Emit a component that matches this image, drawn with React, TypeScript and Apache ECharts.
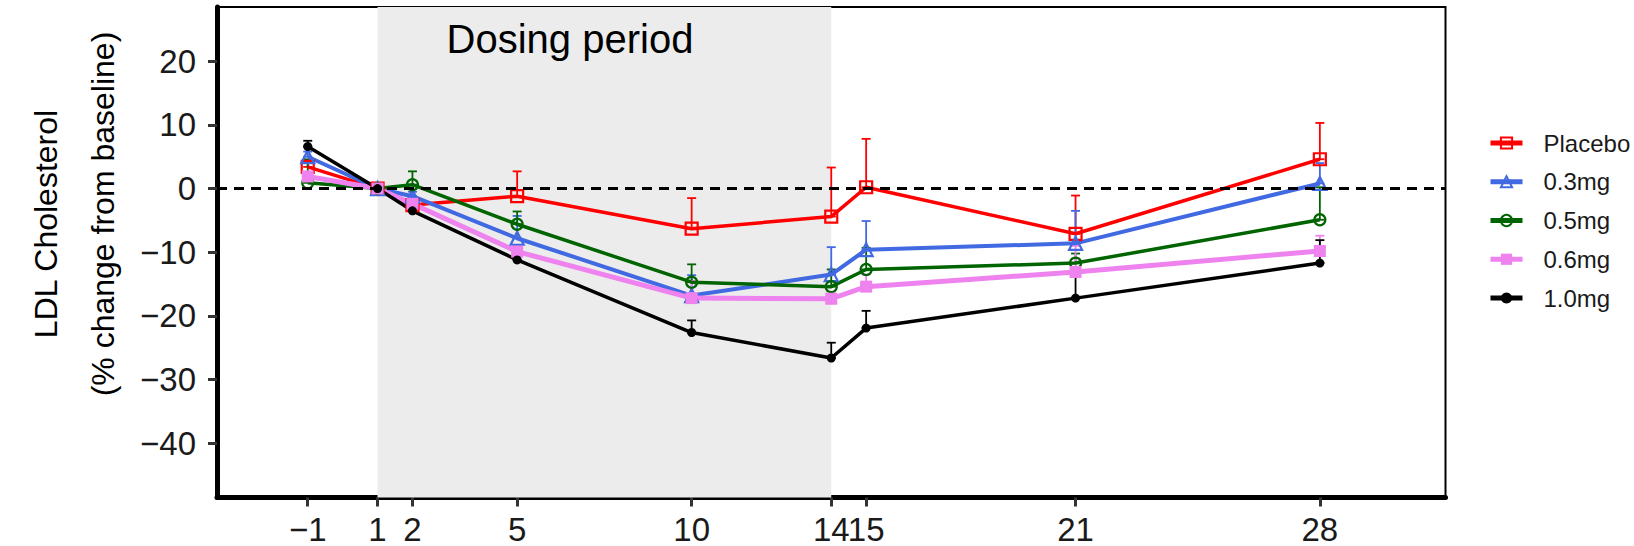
import React, { useEffect, useRef } from 'react';
import * as echarts from 'echarts';

// ---- data ----
const days = [-1, 1, 2, 5, 10, 14, 15, 21, 28];
const groupNames = ['Placebo', '0.3mg', '0.5mg', '0.6mg', '1.0mg'];

const placeboMean = [3.4, 0, -2.6, -1.2, -6.3, -4.4, 0.2, -7.1, 4.6];
const placeboUpper = [4.4, 0.9, -1.9, 2.7, -1.5, 3.3, 7.8, -1.1, 10.3];

const dose03Mean = [5.0, 0, -1.2, -7.8, -16.8, -13.5, -9.6, -8.6, 0.8];
const dose03Upper = [5.8, 0.6, -0.5, -4.3, -13.6, -9.2, -5.1, -3.5, 4.0];

const dose05Mean = [0.9, 0, 0.6, -5.6, -14.7, -15.4, -12.7, -11.7, -4.9];
const dose05Upper = [4.6, 0.5, 2.7, -3.6, -11.9, -12.7, -9.3, -10.2, 0.2];

const dose06Mean = [1.9, 0, -2.4, -9.9, -17.2, -17.3, -15.4, -13.1, -9.8];
const dose06Upper = [2.6, 0.4, -1.8, -9.0, -14.5, -16.2, -13.5, -9.0, -7.4];

const dose10Mean = [6.6, 0, -3.5, -11.2, -22.6, -26.6, -21.9, -17.2, -11.7];
const dose10Upper = [7.5, 0.3, -2.5, -9.2, -20.7, -24.2, -19.2, -12.9, -8.1];

const xTicks = [-1, 1, 2, 5, 10, 14, 15, 21, 28];
const yTicks = [-40, -30, -20, -10, 0, 10, 20];
const dosingPeriod = [1, 14];
const dosingLabel = 'Dosing period';
const yTitle1 = 'LDL Cholesterol';
const yTitle2 = '(% change from baseline)';

const means = [placeboMean, dose03Mean, dose05Mean, dose06Mean, dose10Mean];
const uppers = [placeboUpper, dose03Upper, dose05Upper, dose06Upper, dose10Upper];

// ---- styles ----
const colors = ['#FF0000', '#4169E1', '#006400', '#EE82EE', '#000000'];
const symbols = ['rect', 'triangle', 'circle', 'rect', 'circle'];
const symbolSizes = [12, 13, 11, 12, 9];
const hollow = [true, true, true, false, false];
const lineWidths = [3.5, 4, 3.5, 5, 3.5];

const FONT = 'Liberation Sans, Arial, Helvetica, sans-serif';

const fmtNum = (v: number) => (v < 0 ? '\u2212' + Math.abs(v) : String(v));

export default function App() {
  const ref = useRef<HTMLDivElement>(null);

  useEffect(() => {
    if (!ref.current) return;
    const chart = echarts.init(ref.current, null, { renderer: 'svg' });

    const errorSeries = groupNames.map((name, gi) => ({
      name: name + ' SE',
      type: 'custom',
      z: 3,
      silent: true,
      encode: { x: 0, y: [1, 2] },
      data: days.map((d, i) => [d, means[gi][i], uppers[gi][i]]),
      renderItem: (params: any, api: any) => {
        const x = api.value(0);
        const m = api.value(1);
        const u = api.value(2);
        const p0 = api.coord([x, m]);
        const p1 = api.coord([x, u]);
        const w = 4.5;
        const st = { stroke: colors[gi], lineWidth: 1.8 };
        return {
          type: 'group',
          children: [
            { type: 'line', shape: { x1: p0[0], y1: p0[1], x2: p1[0], y2: p1[1] }, style: st },
            { type: 'line', shape: { x1: p1[0] - w, y1: p1[1], x2: p1[0] + w, y2: p1[1] }, style: st },
            { type: 'line', shape: { x1: p0[0] - w, y1: p0[1], x2: p0[0] + w, y2: p0[1] }, style: st },
          ],
        };
      },
    }));

    const lineSeries = groupNames.map((name, gi) => ({
      name,
      type: 'line',
      z: 4,
      data: days.map((d, i) => [d, means[gi][i]]),
      symbol: symbols[gi],
      symbolSize: symbolSizes[gi],
      showAllSymbol: true,
      lineStyle: { color: colors[gi], width: lineWidths[gi] },
      itemStyle: hollow[gi]
        ? { color: 'rgba(255,255,255,0)', borderColor: colors[gi], borderWidth: 2.2 }
        : { color: colors[gi], borderWidth: 0 },
      color: colors[gi],
    }));

    const bgSeries = {
      name: 'bg',
      type: 'line',
      z: 1,
      data: [],
      silent: true,
      markArea: {
        silent: true,
        itemStyle: { color: '#ECECEC' },
        data: [[{ xAxis: dosingPeriod[0] }, { xAxis: dosingPeriod[1] }]],
      },
      markLine: {
        silent: true,
        symbol: ['none', 'none'],
        label: { show: false },
        lineStyle: { type: [10, 7], color: '#000', width: 2.8 },
        data: [{ yAxis: 0 }],
      },
    };

    chart.setOption({
      animation: false,
      backgroundColor: '#ffffff',
      grid: {
        left: 217,
        top: 7,
        width: 1228.5,
        height: 490.5,
        show: true,
        borderColor: '#000',
        borderWidth: 2,
        backgroundColor: 'transparent',
      },
      xAxis: {
        type: 'value',
        min: -3.6,
        max: 31.6,
        axisLine: { show: true, onZero: false, lineStyle: { color: '#000', width: 5 } },
        axisTick: { show: true, customValues: xTicks, length: 9, lineStyle: { color: '#333', width: 3 } },
        axisLabel: {
          customValues: xTicks,
          formatter: (v: number) => fmtNum(v),
          fontSize: 33,
          fontFamily: FONT,
          color: '#1a1a1a',
          margin: 15,
          hideOverlap: false,
        },
        splitLine: { show: false },
      },
      yAxis: {
        type: 'value',
        min: -48.5,
        max: 28.5,
        axisLine: { show: true, onZero: false, lineStyle: { color: '#000', width: 5 } },
        axisTick: { show: true, customValues: yTicks, length: 9, lineStyle: { color: '#333', width: 3 } },
        axisLabel: {
          customValues: yTicks,
          formatter: (v: number) => fmtNum(v),
          fontSize: 33,
          fontFamily: FONT,
          color: '#1a1a1a',
          margin: 21,
        },
        splitLine: { show: false },
      },
      legend: {
        data: groupNames,
        orient: 'vertical',
        left: 1483,
        top: 126,
        itemWidth: 32,
        itemHeight: 14,
        itemGap: 14.75,
        selectedMode: false,
        lineStyle: { width: 5 },
        textStyle: {
          fontSize: 24,
          lineHeight: 24,
          fontFamily: FONT,
          color: '#1a1a1a',
          padding: [0, 0, 0, 16],
        },
      },
      graphic: [
        {
          type: 'text',
          x: 570,
          y: 39,
          z: 10,
          style: {
            text: dosingLabel,
            fontSize: 40,
            fontFamily: FONT,
            fill: '#000',
            align: 'center',
            verticalAlign: 'middle',
          },
        },
        {
          type: 'text',
          x: 46,
          y: 224,
          rotation: Math.PI / 2,
          style: {
            text: yTitle1,
            fontSize: 32,
            fontFamily: FONT,
            fill: '#000',
            align: 'center',
            verticalAlign: 'middle',
          },
        },
        {
          type: 'text',
          x: 103,
          y: 214,
          rotation: Math.PI / 2,
          style: {
            text: yTitle2,
            fontSize: 32,
            fontFamily: FONT,
            fill: '#000',
            align: 'center',
            verticalAlign: 'middle',
          },
        },
      ],
      series: [bgSeries, ...errorSeries, ...lineSeries],
    });

    return () => chart.dispose();
  }, []);

  return (
    <div
      ref={ref}
      style={{ position: 'fixed', left: 0, top: 0, width: 1634, height: 546, background: '#fff' }}
    />
  );
}
